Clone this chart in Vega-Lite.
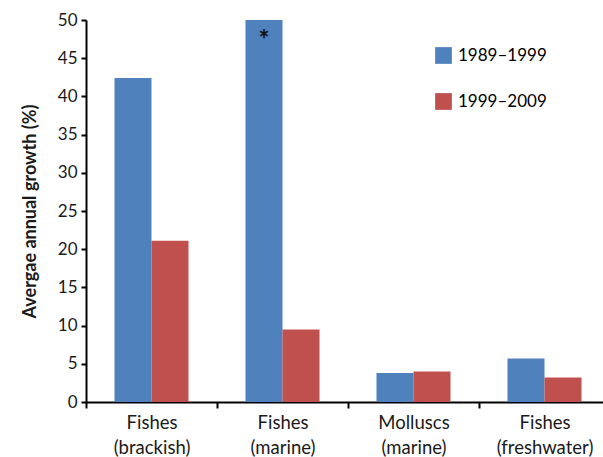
{
  "$schema": "https://vega.github.io/schema/vega-lite/v6.json",
  "autosize": {"type": "none"},
  "padding": {"left": 86, "top": 20, "right": 0, "bottom": 55},
  "width": 524,
  "height": 382,
  "background": "white",
  "config": {
    "font": "Lato",
    "view": {"stroke": null},
    "axis": {"domainColor": "black", "tickColor": "black", "labelColor": "#1a1a1a", "titleColor": "#1a1a1a", "grid": false}
  },
  "data": {
    "values": [
      {"category": "Fishes|(brackish)", "period": "1989–1999", "value": 42.4},
      {"category": "Fishes|(brackish)", "period": "1999–2009", "value": 21.1},
      {"category": "Fishes|(marine)", "period": "1989–1999", "value": 50, "note": "*"},
      {"category": "Fishes|(marine)", "period": "1999–2009", "value": 9.5},
      {"category": "Molluscs|(marine)", "period": "1989–1999", "value": 3.8},
      {"category": "Molluscs|(marine)", "period": "1999–2009", "value": 4.0},
      {"category": "Fishes|(freshwater)", "period": "1989–1999", "value": 5.7},
      {"category": "Fishes|(freshwater)", "period": "1999–2009", "value": 3.2}
    ]
  },
  "encoding": {
    "x": {
      "field": "category", "type": "nominal", "sort": null,
      "scale": {"paddingInner": 0, "paddingOuter": 0},
      "axis": {
        "title": null, "labelAngle": 0, "labelFontSize": 18.5, "labelLineHeight": 25,
        "labelExpr": "isValid(datum.value) ? split(datum.value, '|') : ''", "tickBand": "extent", "tickSize": 6,
        "tickWidth": 2, "domainWidth": 2, "labelPadding": 5, "labelBaseline": "top"
      }
    },
    "xOffset": {"field": "period", "type": "nominal", "scale": {"paddingInner": 0, "paddingOuter": 0.77}},
    "y": {
      "field": "value", "type": "quantitative",
      "scale": {"domain": [0, 50], "nice": false},
      "axis": {
        "title": "Avergae annual growth (%)", "titleFontSize": 18, "titleFontWeight": "bold",
        "titlePadding": 18, "values": [0,5,10,15,20,25,30,35,40,45,50],
        "labelFontSize": 17, "tickSize": 5, "tickWidth": 2, "domainWidth": 2, "labelPadding": 4
      }
    }
  },
  "layer": [
    {
      "mark": {"type": "bar"},
      "encoding": {
        "color": {
          "field": "period", "type": "nominal",
          "scale": {"range": ["#4F81BD", "#C0504D"]},
          "legend": {
            "title": null, "orient": "none", "legendX": 349, "legendY": 27,
            "symbolType": "square", "symbolSize": 280, "labelFontSize": 17,
            "rowPadding": 28, "labelOffset": 6, "symbolStrokeWidth": 0
          }
        }
      }
    },
    {
      "transform": [{"filter": "datum.note"}],
      "mark": {"type": "text", "fontSize": 26, "fontWeight": "bold", "baseline": "top", "dy": 8, "color": "#111"},
      "encoding": {"text": {"field": "note"}}
    }
  ]
}
